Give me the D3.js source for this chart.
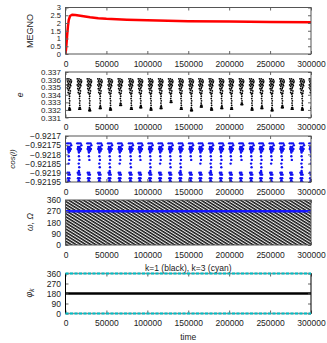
<!DOCTYPE html>
<html>
<head>
<meta charset="utf-8">
<script src="https://cdn.jsdelivr.net/npm/d3@7"></script>
<style>
  body { margin: 0; background: #fff; }
  svg { display: block; font-family: "Liberation Sans", Arial, sans-serif; }
</style>
</head>
<body>
<script>
// time ticks shared by all panels
var timeTicks = [0, 50000, 100000, 150000, 200000, 250000, 300000];

// MEGNO vs time
var megnoT = [0, 1000, 2000, 3000, 4000, 5500, 8000, 12000, 20000, 30000, 40000, 50000, 75000, 100000, 150000, 200000, 250000, 300000];
var megnoV = [0, 0.5, 1.2, 1.8, 2.2, 2.45, 2.53, 2.52, 2.45, 2.37, 2.31, 2.27, 2.21, 2.17, 2.12, 2.09, 2.07, 2.05];
var megnoTicks = [0, 0.5, 1, 1.5, 2, 2.5, 3];

var burstTimes = [2000, 14400, 26600, 39500, 52000, 64400, 77500, 89000, 101500, 113800, 126000, 138500, 151000,
                  163000, 175500, 188000, 200000, 212500, 225000, 237000, 249500, 262000, 274000, 286500, 298000];

// e : lowest value reached in each burst
var eLow = [0.3320, 0.3321, 0.3319, 0.3322, 0.3320, 0.3326, 0.3321, 0.3323, 0.3320, 0.3322, 0.3330, 0.3321, 0.3319,
            0.3324, 0.3320, 0.3322, 0.3321, 0.3327, 0.3320, 0.3322, 0.3319, 0.3323, 0.3321, 0.3320, 0.3322];
// e : dense upper cloud of a burst [dt, e]
var eTop = [[0, 0.3361], [1100, 0.3359], [2200, 0.3361], [3300, 0.3358], [4400, 0.3360], [5300, 0.3358],
            [500, 0.3357], [1600, 0.3355], [2700, 0.3357], [3800, 0.3354], [4900, 0.3356],
            [0, 0.3353], [1100, 0.3351], [2200, 0.3353], [3300, 0.3350], [4400, 0.3352],
            [600, 0.3348], [1700, 0.3346], [2800, 0.3348], [3900, 0.3345],
            [1200, 0.3343], [2400, 0.3341], [3500, 0.3342]];
// e : descending column [dt, e]
var eColumn = [[3000, 0.3338], [2600, 0.3335], [3200, 0.3332], [2800, 0.3329], [3100, 0.3326], [2700, 0.3323]];
// e : offsets of the bottom blob [dt, de]
var eBottom = [[2000, 0], [3000, 0], [4000, 0], [2500, 0.0002], [3500, 0.0002]];
var eTicks = [0.331, 0.332, 0.333, 0.334, 0.335, 0.336, 0.337];

// cos(i)
var cosTop = [[0, -0.92174], [1000, -0.92176], [2000, -0.92174], [3000, -0.92176], [4000, -0.92174], [5000, -0.92175],
              [500, -0.92177], [1500, -0.92178], [2500, -0.92177], [3500, -0.92178], [4500, -0.92177], [2000, -0.92179]];
var cosMid = [[2000, -0.92181], [2600, -0.92183], [1800, -0.92185], [2400, -0.92187], [2000, -0.92189]];
var cosMidCount = [3, 5, 2, 4, 5, 3, 4, 2, 5, 3, 4, 5, 2, 3, 5, 4, 3, 2, 4, 5, 3, 4, 2, 5, 3];
var cosBottom = [[600, -0.92190], [1500, -0.92191], [2400, -0.92190], [3300, -0.92191],
                 [900, -0.92193], [1800, -0.92194], [2700, -0.92193],
                 [1200, -0.92195], [2100, -0.92195], [3000, -0.92195]];
var cosTicks = [-0.92195, -0.9219, -0.92185, -0.9218, -0.92175, -0.9217];

// angles
var angleTicks = [0, 90, 180, 270, 360];
var omegaRange = [0, 360];       // omega circulates over the whole range
var bigOmega = [[0, 270], [300000, 270]];
var phi1 = [[0, 180], [300000, 180]];
var phi3Levels = [0, 360];

var W = 327, H = 343;
var svg = d3.select("body").append("svg").attr("width", W).attr("height", H);

var x = d3.scaleLinear().domain([0, 300000]).range([65.5, 311]);

// hatch used for the densely circulating omega
var defs = svg.append("defs");
var hatch = defs.append("pattern")
    .attr("id", "hatch")
    .attr("patternUnits", "userSpaceOnUse")
    .attr("width", 2.6).attr("height", 2.6)
    .attr("patternTransform", "rotate(32)");
hatch.append("rect").attr("width", 2.6).attr("height", 2.6).attr("fill", "#eee");
hatch.append("rect").attr("width", 2.6).attr("height", 1.5).attr("fill", "#151515");

function fmtNum(d) {
  return String(d).replace("-", "\u2212");
}

function panel(id, top, bottom, domain, ticks, frameColor, fs) {
  var y = d3.scaleLinear().domain(domain).range([bottom, top]);
  var g = svg.append("g");

  defs.append("clipPath").attr("id", "clip" + id)
    .append("rect")
    .attr("x", x.range()[0]).attr("y", top)
    .attr("width", x.range()[1] - x.range()[0]).attr("height", bottom - top);

  var plot = g.append("g").attr("clip-path", "url(#clip" + id + ")");

  // axes with inward ticks
  var ax = g.append("g").attr("transform", "translate(0," + bottom + ")")
    .call(d3.axisBottom(x).tickValues(timeTicks).tickSize(-3).tickPadding(6.5).tickFormat(d3.format("d")));
  ax.selectAll("text").attr("font-size", 8.5);
  g.append("g").attr("transform", "translate(0," + top + ")")
    .call(d3.axisTop(x).tickValues(timeTicks).tickSize(-3).tickFormat(""));
  var ay = g.append("g").attr("transform", "translate(" + x.range()[0] + ",0)")
    .call(d3.axisLeft(y).tickValues(ticks).tickSize(-3).tickPadding(4.5).tickFormat(fmtNum));
  ay.selectAll("text").attr("font-size", fs);
  g.append("g").attr("transform", "translate(" + x.range()[1] + ",0)")
    .call(d3.axisRight(y).tickValues(ticks).tickSize(-3).tickFormat(""));

  g.selectAll(".domain").remove();
  g.selectAll(".tick line").attr("stroke", "#666");
  g.selectAll(".tick text").attr("fill", "#222")
    .attr("font-family", "'Liberation Sans', Arial, sans-serif");

  var frame = g.append("rect")
    .attr("x", x.range()[0]).attr("y", top)
    .attr("width", x.range()[1] - x.range()[0]).attr("height", bottom - top)
    .attr("fill", "none").attr("stroke", frameColor).attr("stroke-width", 1);

  return { y: y, plot: plot, g: g, frame: frame };
}

// ---- panel 1: MEGNO
var p1 = panel(1, 7.5, 54, [0, 3], megnoTicks, "#555", 7.5);
var megno = megnoT.map(function(t, i) { return [t, megnoV[i]]; });
p1.plot.append("path")
  .datum(megno)
  .attr("fill", "none")
  .attr("stroke", "#f00")
  .attr("stroke-width", 2.5)
  .attr("stroke-linejoin", "round")
  .attr("d", d3.line().x(function(d) { return x(d[0]); }).y(function(d) { return p1.y(d[1]); }));

// ---- panel 2: e
var p2 = panel(2, 72, 117.5, [0.331, 0.337], eTicks, "#555", 8);
var ePts = [];
burstTimes.forEach(function(t0, k) {
  eTop.forEach(function(p) { ePts.push([t0 + p[0], p[1]]); });
  eColumn.forEach(function(p) { if (p[1] > eLow[k] + 0.0002) ePts.push([t0 + p[0], p[1]]); });
  eBottom.forEach(function(p) { ePts.push([t0 + p[0], eLow[k] + p[1]]); });
});
p2.plot.selectAll("circle")
  .data(ePts)
  .enter().append("circle")
  .attr("cx", function(d) { return x(d[0]); })
  .attr("cy", function(d) { return p2.y(d[1]); })
  .attr("r", 0.9)
  .attr("fill", "#000");

// ---- panel 3: cos(i)
var p3 = panel(3, 136, 182, [-0.92195, -0.9217], cosTicks, "#555", 8.5);
var cosPts = [];
burstTimes.forEach(function(t0, k) {
  cosTop.forEach(function(p) { cosPts.push([t0 + p[0], p[1]]); });
  cosMid.slice(0, cosMidCount[k]).forEach(function(p) { cosPts.push([t0 + p[0], p[1]]); });
  cosBottom.forEach(function(p) { cosPts.push([t0 + p[0], p[1]]); });
});
p3.plot.selectAll("circle")
  .data(cosPts)
  .enter().append("circle")
  .attr("cx", function(d) { return x(d[0]); })
  .attr("cy", function(d) { return p3.y(d[1]); })
  .attr("r", 1.2)
  .attr("fill", "#1010f0");

// ---- panel 4: omega, Omega
var p4 = panel(4, 200, 245, [0, 360], angleTicks, "#555", 8.5);
p4.plot.append("rect")
  .attr("x", x(0)).attr("width", x(300000) - x(0))
  .attr("y", p4.y(omegaRange[1])).attr("height", p4.y(omegaRange[0]) - p4.y(omegaRange[1]))
  .attr("fill", "url(#hatch)");
p4.plot.append("path")
  .datum(bigOmega)
  .attr("fill", "none").attr("stroke", "#1515ff").attr("stroke-width", 2.5)
  .attr("d", d3.line().x(function(d) { return x(d[0]); }).y(function(d) { return p4.y(d[1]); }));
p4.frame.raise();

// ---- panel 5: phi_k
var p5 = panel(5, 273.5, 313.5, [0, 360], angleTicks, "#000", 8.5);
var lineP5 = d3.line().x(function(d) { return x(d[0]); }).y(function(d) { return p5.y(d[1]); });
phi3Levels.forEach(function(v) {
  var seg = [[0, v], [300000, v]];
  svg.append("path").datum(seg)
    .attr("fill", "none").attr("stroke", "#888").attr("stroke-width", 1.6).attr("d", lineP5);
  svg.append("path").datum(seg)
    .attr("fill", "none").attr("stroke", "#00c0c8").attr("stroke-width", 2)
    .attr("stroke-dasharray", "3,1.5").attr("d", lineP5);
});
p5.plot.append("path").datum(phi1)
  .attr("fill", "none").attr("stroke", "#000").attr("stroke-width", 2.5).attr("d", lineP5);

// ---- labels
function ylab(txt, cx, cy, size, italic) {
  return svg.append("text")
    .attr("transform", "translate(" + cx + "," + cy + ") rotate(-90)")
    .attr("text-anchor", "middle")
    .attr("dy", "0.35em")
    .attr("font-size", size)
    .attr("font-style", italic ? "italic" : "normal")
    .attr("fill", "#222")
    .text(txt);
}
ylab("MEGNO", 30, 31, 9, false);
ylab("e", 20, 95, 8.5, true);
ylab("cos(i)", 12, 159, 8, true);
ylab("\u03c9, \u03a9", 30, 222, 8.5, true);
var phiLab = ylab("", 29, 293, 9, true);
phiLab.append("tspan").text("\u03c6");
phiLab.append("tspan").attr("font-size", 6.5).attr("dy", "0.25em").text("k");

var cx = (x.range()[0] + x.range()[1]) / 2;
svg.append("text")
  .attr("x", cx).attr("y", 270.5)
  .attr("text-anchor", "middle").attr("font-size", 8.5).attr("fill", "#222")
  .text("k=1 (black), k=3 (cyan)");
svg.append("text")
  .attr("x", cx).attr("y", 339.5)
  .attr("text-anchor", "middle").attr("font-size", 8.5).attr("fill", "#222")
  .text("time");
</script>
</body>
</html>
